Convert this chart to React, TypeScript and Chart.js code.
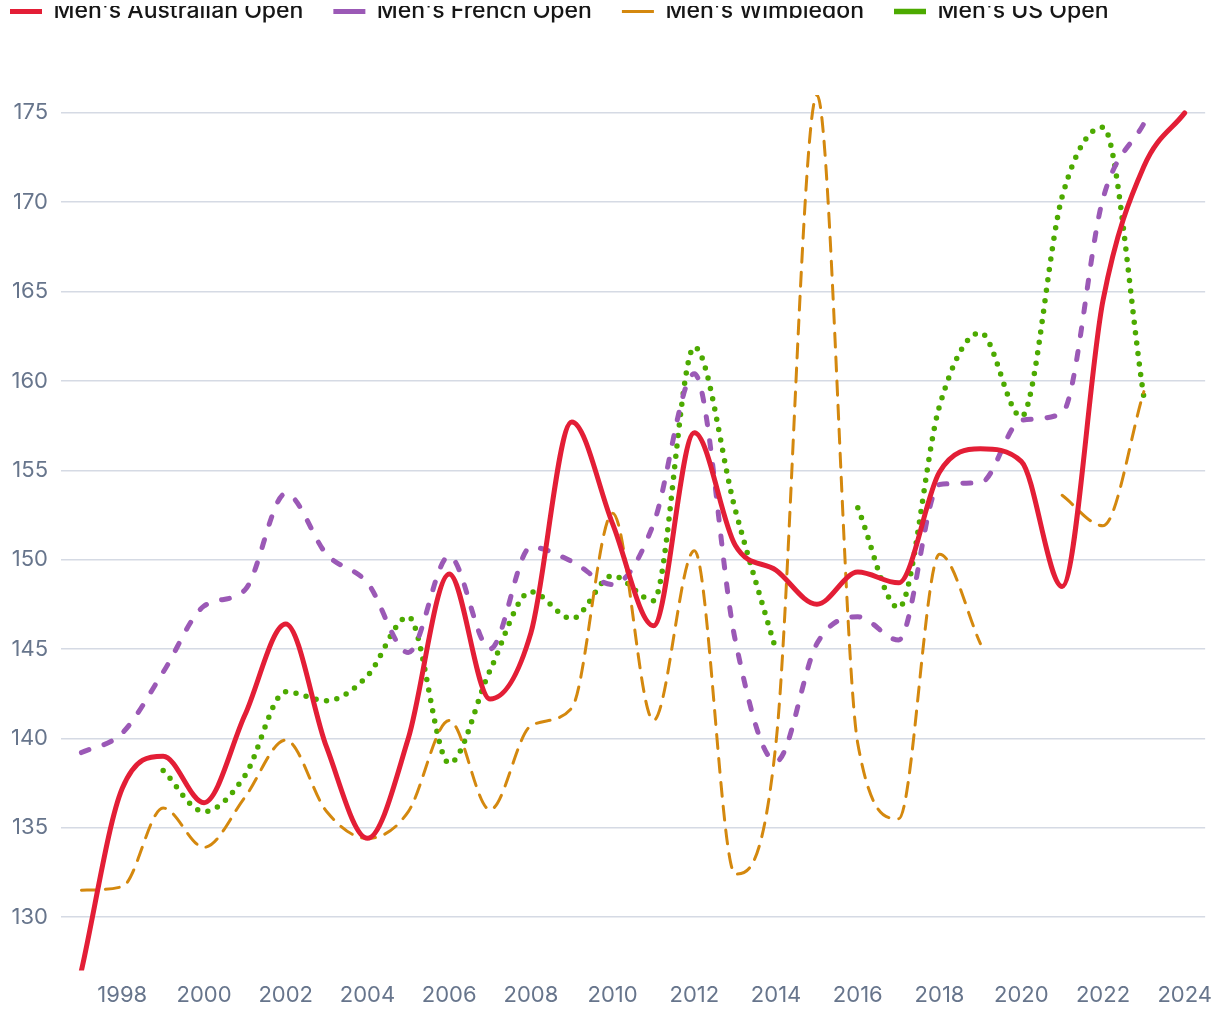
import React, { useEffect, useRef } from 'react';
import { Chart, registerables } from 'chart.js';

Chart.register(...registerables);

// ---- data ----
const years = [
  '1997', '1998', '1999', '2000', '2001', '2002', '2003', '2004', '2005', '2006',
  '2007', '2008', '2009', '2010', '2011', '2012', '2013', '2014', '2015', '2016',
  '2017', '2018', '2019', '2020', '2021', '2022', '2023', '2024',
];

const australianOpen = [
  127.0, 137.2, 139.0, 136.4, 141.3, 146.4, 139.5, 134.4, 140.0, 149.2,
  142.2, 145.9, 157.7, 152.0, 146.3, 157.1, 150.8, 149.4, 147.5, 149.3,
  148.7, 154.9, 156.2, 155.5, 148.5, 164.5, 172.0, 175.0,
];

const frenchOpen = [
  139.2, 140.3, 143.7, 147.4, 148.3, 153.7, 150.3, 148.7, 144.8, 150.2,
  145.0, 150.7, 149.9, 148.6, 152.0, 160.4, 145.5, 138.7, 145.3, 146.8,
  145.5, 154.2, 154.3, 157.8, 158.2, 170.2, 174.4, null,
];

const wimbledon = [
  131.5, 131.7, 136.1, 133.9, 136.7, 139.9, 135.9, 134.4, 135.9, 141.0,
  136.0, 140.7, 141.7, 152.6, 141.0, 150.5, 132.4, 139.8, 176.0, 139.7,
  135.5, 150.3, 145.3, null, 153.6, 151.9, 159.4, null,
];

const usOpen = [
  null, null, 138.2, 135.9, 137.9, 142.6, 142.1, 143.5, 146.8, 138.6,
  143.8, 148.2, 146.7, 149.1, 147.7, 161.9, 152.8, 144.9, null, 152.9,
  147.3, 158.6, 162.7, 158.0, 170.3, 174.2, 159.1, null,
];

const seriesNames = [
  "Men's Australian Open",
  "Men's French Open",
  "Men's Wimbledon",
  "Men's US Open",
];

const Y_STEP = 5;

// ---- layout constants ----
const CANVAS_W = 1232;
const CANVAS_H = 1039;
const LEGEND_GAP = 62;
const Y_AXIS_W = 81;
const CLIP_TOP = 6;
const FONT = 'Inter, "Open Sans", sans-serif';

export default function App() {
  const ref = useRef<HTMLCanvasElement | null>(null);

  useEffect(() => {
    if (!ref.current) return;
    const all = [...australianOpen, ...frenchOpen, ...wimbledon, ...usOpen].filter(
      (v) => v !== null
    ) as number[];
    const yMin = Math.min(...all);
    const yMax = Math.max(...all);

    Chart.defaults.font.family = FONT;

    const legendSpacer = {
      id: 'legendSpacer',
      beforeInit(chart: any) {
        const legend = chart.legend;
        if (!legend) return;
        const orig = legend.fit;
        legend.fit = function () {
          orig.call(this);
          this.height += LEGEND_GAP;
        };
      },
    };

    const chart = new Chart(ref.current, {
      type: 'line',
      data: {
        labels: years,
        datasets: [
          {
            label: seriesNames[0],
            data: australianOpen,
            borderColor: '#e31e36',
            backgroundColor: '#e31e36',
            borderWidth: 5,
            borderCapStyle: 'round',
            borderJoinStyle: 'round',
          },
          {
            label: seriesNames[1],
            data: frenchOpen,
            borderColor: '#9b59b6',
            backgroundColor: '#9b59b6',
            borderWidth: 5,
            borderDash: [8, 16],
            borderCapStyle: 'round',
            borderJoinStyle: 'round',
          },
          {
            label: seriesNames[2],
            data: wimbledon,
            borderColor: '#d4880e',
            backgroundColor: '#d4880e',
            borderWidth: 3,
            borderDash: [14, 10],
            borderCapStyle: 'round',
            borderJoinStyle: 'round',
          },
          {
            label: seriesNames[3],
            data: usOpen,
            borderColor: '#4caa00',
            backgroundColor: '#4caa00',
            borderWidth: 5.5,
            borderDash: [0, 10.5],
            borderCapStyle: 'round',
            borderJoinStyle: 'round',
          },
        ],
      },
      options: {
        responsive: false,
        animation: false,
        events: [],
        layout: { padding: 0 },
        elements: {
          point: { radius: 0, hoverRadius: 0 },
          line: { cubicInterpolationMode: 'monotone', fill: false },
        },
        plugins: {
          legend: {
            position: 'top',
            align: 'start',
            labels: {
              usePointStyle: true,
              pointStyle: 'line',
              pointStyleWidth: 32,
              padding: 30,
              color: '#161616',
              font: { family: FONT, size: 23, weight: '500' },
            },
          },
          tooltip: { enabled: false },
          title: { display: false },
        },
        scales: {
          x: {
            type: 'category',
            offset: true,
            grid: { display: false, drawTicks: true, tickLength: 12 },
            border: { display: false },
            ticks: {
              autoSkip: false,
              maxRotation: 0,
              minRotation: 0,
              padding: 0,
              color: '#67758c',
              font: { family: FONT, size: 22 },
              callback: (_v: any, i: number) => {
                const y = years[i];
                return Number(y) % 2 === 0 ? y : '';
              },
            },
          },
          y: {
            min: yMin,
            max: yMax,
            afterFit: (s: any) => {
              s.width = Y_AXIS_W;
            },
            border: { display: false },
            grid: { color: '#d5dae4', lineWidth: 1.5, drawTicks: false },
            ticks: {
              stepSize: Y_STEP,
              includeBounds: false,
              padding: 13,
              color: '#67758c',
              font: { family: FONT, size: 22 },
            },
          },
        },
      },
      plugins: [legendSpacer],
    } as any);

    return () => chart.destroy();
  }, []);

  return (
    <div
      style={{
        position: 'absolute',
        left: 0,
        top: CLIP_TOP,
        width: 1220,
        height: 1020 - CLIP_TOP,
        overflow: 'hidden',
      }}
    >
      <div
        style={{
          position: 'absolute',
          left: -20,
          top: -30 - CLIP_TOP,
          width: CANVAS_W,
          height: CANVAS_H,
        }}
      >
        <canvas ref={ref} width={CANVAS_W} height={CANVAS_H} style={{ display: 'block' }} />
      </div>
    </div>
  );
}
